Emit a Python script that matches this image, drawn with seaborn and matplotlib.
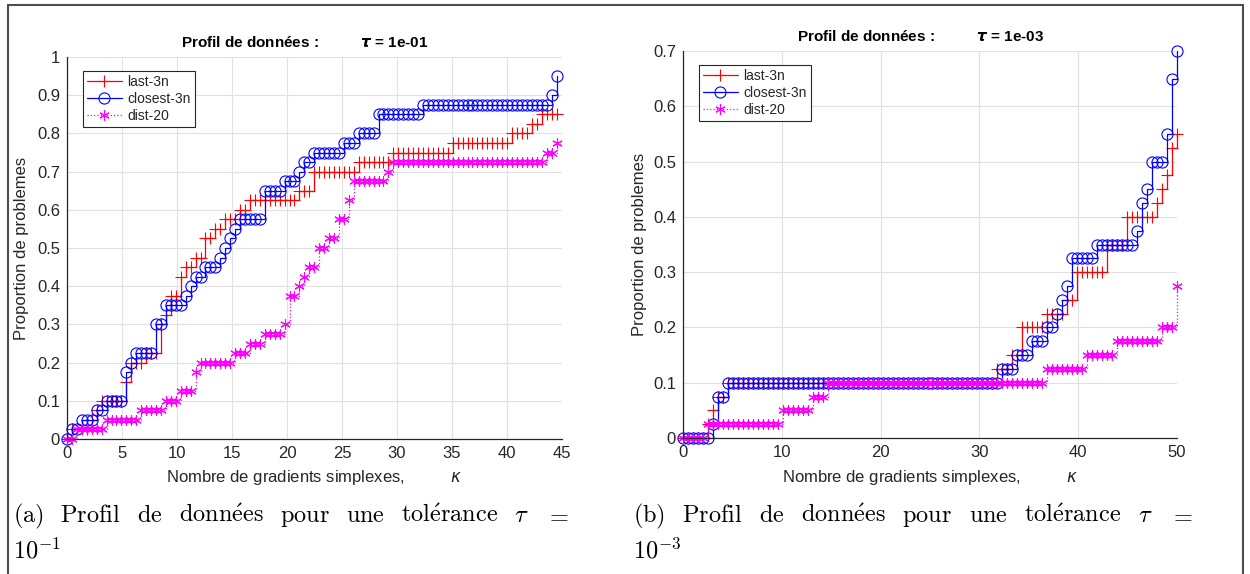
import numpy as np
import pandas as pd
import matplotlib
matplotlib.use("Agg")
import matplotlib.pyplot as plt
import seaborn as sns
from matplotlib.lines import Line2D

# ------------------------------------------------------------------ data
# Profiles sampled on 100 kappa values; each series is given as the
# proportion levels and the number of samples (markers) read at each level.
n_samples = 100
kappa_max_a = 44.5
kappa_max_b = 50.0

# (a) tau = 1e-01
last3n_a_levels = [0, 0.025, 0.05, 0.075, 0.1, 0.15, 0.2, 0.225, 0.3, 0.325, 0.375, 0.425,
                   0.45, 0.475, 0.525, 0.55, 0.575, 0.6, 0.625, 0.65, 0.7, 0.725, 0.75,
                   0.775, 0.8, 0.825, 0.85]
last3n_a_counts = [1, 4, 1, 1, 5, 1, 3, 3, 1, 1, 2, 1, 2, 2, 2, 2, 3, 2, 10, 3, 9, 7, 12,
                   12, 4, 2, 4]
closest3n_a_levels = [0, 0.025, 0.05, 0.075, 0.1, 0.175, 0.2, 0.225, 0.3, 0.35, 0.375, 0.4,
                      0.425, 0.45, 0.475, 0.5, 0.525, 0.55, 0.575, 0.65, 0.675, 0.7, 0.725,
                      0.75, 0.775, 0.8, 0.85, 0.875, 0.9, 0.95]
closest3n_a_counts = [1, 2, 3, 2, 4, 1, 1, 4, 2, 4, 1, 1, 2, 3, 1, 1, 1, 1, 5, 4, 3, 1, 2,
                      6, 3, 4, 9, 26, 1, 1]
dist20_a_levels = [0, 0.025, 0.05, 0.075, 0.1, 0.125, 0.175, 0.2, 0.225, 0.25, 0.275, 0.3,
                   0.375, 0.4, 0.425, 0.45, 0.5, 0.525, 0.575, 0.625, 0.675, 0.7, 0.725,
                   0.75, 0.775]
dist20_a_counts = [2, 6, 7, 5, 3, 3, 1, 7, 3, 3, 4, 1, 2, 1, 1, 2, 2, 2, 2, 1, 7, 1, 31, 2, 1]

# (b) tau = 1e-03
last3n_b_levels = [0, 0.025, 0.05, 0.075, 0.1, 0.125, 0.15, 0.2, 0.225, 0.25, 0.3, 0.35,
                   0.4, 0.425, 0.45, 0.475, 0.525, 0.55]
last3n_b_counts = [5, 1, 1, 2, 54, 3, 2, 5, 4, 2, 6, 4, 6, 1, 1, 1, 1, 1]
closest3n_b_levels = [0, 0.025, 0.075, 0.1, 0.125, 0.15, 0.175, 0.2, 0.225, 0.25, 0.275,
                      0.325, 0.35, 0.375, 0.425, 0.45, 0.5, 0.55, 0.65, 0.7]
closest3n_b_counts = [6, 1, 2, 55, 3, 3, 3, 2, 1, 1, 1, 5, 8, 1, 1, 1, 3, 1, 1, 1]
dist20_b_levels = [0, 0.025, 0.05, 0.075, 0.1, 0.125, 0.15, 0.175, 0.2, 0.275]
dist20_b_counts = [5, 15, 6, 3, 44, 8, 6, 9, 3, 1]

series_names = ["last-3n", "closest-3n", "dist-20"]

xticks_a = [0, 5, 10, 15, 20, 25, 30, 35, 40, 45]
yticks_a = [0, 0.1, 0.2, 0.3, 0.4, 0.5, 0.6, 0.7, 0.8, 0.9, 1]
yticklabels_a = ["0", "0.1", "0.2", "0.3", "0.4", "0.5", "0.6", "0.7", "0.8", "0.9", "1"]
xticks_b = [0, 10, 20, 30, 40, 50]
yticks_b = [0, 0.1, 0.2, 0.3, 0.4, 0.5, 0.6, 0.7]
yticklabels_b = ["0", "0.1", "0.2", "0.3", "0.4", "0.5", "0.6", "0.7"]

title_a = r"Profil de données :          $\mathbfit{\tau}$ = 1e-01"
title_b = r"Profil de données :          $\mathbfit{\tau}$ = 1e-03"
xlabel_text = r"Nombre de gradients simplexes,          $\kappa$"
ylabel_text = "Proportion de problemes"
caption_a = [r"$\mathrm{(a)}$", r"$\mathrm{Profil}$", r"$\mathrm{de}$",
             r"$\mathrm{donn\acute{e}es}$", r"$\mathrm{pour}$", r"$\mathrm{une}$",
             r"$\mathrm{tol\acute{e}rance}$", r"$\tau$", r"$=$"]
caption_b = [r"$\mathrm{(b)}$", r"$\mathrm{Profil}$", r"$\mathrm{de}$",
             r"$\mathrm{donn\acute{e}es}$", r"$\mathrm{pour}$", r"$\mathrm{une}$",
             r"$\mathrm{tol\acute{e}rance}$", r"$\tau$", r"$=$"]
caption_a2 = r"$10^{-1}$"
caption_b2 = r"$10^{-3}$"

# ------------------------------------------------------------------ style
sns.set_style("white")
plt.rcParams["font.family"] = ["Liberation Sans", "DejaVu Sans"]
plt.rcParams["mathtext.fontset"] = "dejavusans"

W, H = 1250, 574
fig = plt.figure(figsize=(W / 100, H / 100), dpi=100)
fig.patch.set_facecolor("white")
ax_a = fig.add_axes([67 / W, 1 - 439 / H, 495 / W, 382 / H])
ax_b = fig.add_axes([683 / W, 1 - 438 / H, 494 / W, 387 / H])

styles = [
    dict(color="#ff0000", marker="+", linestyle="-", markersize=8.5),
    dict(color="#0000ff", marker="o", linestyle="-", markersize=8),
    dict(color="#ff00ff", marker=(6, 2, 0), linestyle=":", markersize=7.5),
]
GRAY = "#262626"


def draw_panel(ax, kmax, data, xticks, yticks, yticklabels, ymax, title, leg_anchor):
    kappa = np.linspace(0, kmax, n_samples)
    for name, st, (levels, counts) in zip(series_names, styles, data):
        df = pd.DataFrame({"kappa": kappa, "p": np.repeat(levels, counts)})
        sns.lineplot(data=df, x="kappa", y="p", ax=ax, estimator=None, sort=False,
                     color=st["color"], linestyle=st["linestyle"], linewidth=0.9,
                     marker=st["marker"], markersize=st["markersize"],
                     markerfacecolor="none", markeredgecolor=st["color"],
                     markeredgewidth=0.8, drawstyle="steps-post", label=name,
                     clip_on=False)
    ax.set_xlim(0, xticks[-1])
    ax.set_ylim(0, ymax)
    ax.set_xticks(xticks)
    ax.set_xticklabels([str(t) for t in xticks])
    ax.set_yticks(yticks)
    ax.set_yticklabels(yticklabels)
    ax.grid(True, color="#e1e1e1", linewidth=0.8)
    ax.set_axisbelow(True)
    for s in ["top", "right"]:
        ax.spines[s].set_visible(False)
    for s in ["left", "bottom"]:
        ax.spines[s].set_color(GRAY)
        ax.spines[s].set_linewidth(0.9)
    ax.tick_params(direction="in", length=4, width=0.8, colors=GRAY, labelsize=12, pad=5)
    ax.set_title(title, fontsize=11, fontweight="bold", pad=7, x=0.481, color="black")
    ax.set_xlabel(xlabel_text, fontsize=12, color=GRAY)
    ax.set_ylabel(ylabel_text, fontsize=12, color=GRAY)
    leg = ax.legend(loc="upper left", bbox_to_anchor=leg_anchor, borderaxespad=0,
                    fontsize=10, frameon=True, fancybox=False, framealpha=1,
                    edgecolor=GRAY, handlelength=2.5, handletextpad=0.4,
                    labelspacing=0.2, borderpad=0.3)
    leg.get_frame().set_linewidth(0.8)
    for t in leg.get_texts():
        t.set_color(GRAY)


draw_panel(ax_a, kappa_max_a,
           [(last3n_a_levels, last3n_a_counts), (closest3n_a_levels, closest3n_a_counts),
            (dist20_a_levels, dist20_a_counts)],
           xticks_a, yticks_a, yticklabels_a, 1.0, title_a, (0.032, 0.963))
draw_panel(ax_b, kappa_max_b,
           [(last3n_b_levels, last3n_b_counts), (closest3n_b_levels, closest3n_b_counts),
            (dist20_b_levels, dist20_b_counts)],
           xticks_b, yticks_b, yticklabels_b, 0.7, title_b, (0.032, 0.964))

ax_a.xaxis.set_label_coords(0.5, -0.077)
ax_b.xaxis.set_label_coords(0.5, -0.078)
ax_a.yaxis.set_label_coords(-0.076, 0.5)
ax_b.yaxis.set_label_coords(-0.072, 0.5)

# ------------------------------------------------------------------ captions
cap_font = dict(fontsize=17.5, math_fontfamily="cm", va="baseline", ha="left", color="black")
renderer = fig.canvas.get_renderer()


def justified(words, x0, x1, ybase):
    arts = [fig.text(0, 1 - ybase / H, w, **cap_font) for w in words]
    widths = [a.get_window_extent(renderer).width for a in arts]
    gap = (x1 - x0 - sum(widths)) / (len(words) - 1)
    pos = x0
    for a, w in zip(arts, widths):
        a.set_x(pos / W)
        pos += w + gap


justified(caption_a, 13, 569, 522)
justified(caption_b, 633, 1193, 522)
fig.text(13 / W, 1 - 558 / H, caption_a2, **cap_font)
fig.text(633 / W, 1 - 558 / H, caption_b2, **cap_font)

# outer frame
frame_kw = dict(transform=fig.transFigure, color="#4d4d4d", linewidth=1.5)
fig.add_artist(Line2D([8 / W, 8 / W], [0, 1 - 5 / H], **frame_kw))
fig.add_artist(Line2D([8 / W, 1243 / W], [1 - 5 / H, 1 - 5 / H], **frame_kw))
fig.add_artist(Line2D([1243 / W, 1243 / W], [0, 1 - 5 / H], **frame_kw))

fig.savefig("out.png", dpi=100)
